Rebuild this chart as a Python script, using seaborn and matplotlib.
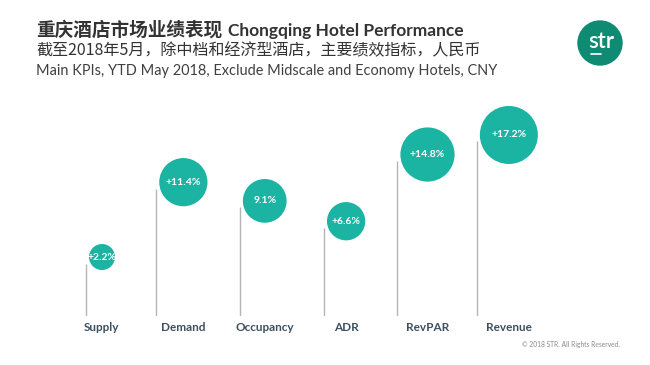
import numpy as np
import pandas as pd
import seaborn as sns
import matplotlib.pyplot as plt
from matplotlib import transforms
from matplotlib.patches import Ellipse

# KPI data, YTD May 2018
kpis = ["Supply", "Demand", "Occupancy", "ADR", "RevPAR", "Revenue"]
growth = [2.2, 11.4, 9.1, 6.6, 14.8, 17.2]
growth_labels = ["+2.2%", "+11.4%", "9.1%", "+6.6%", "+14.8%", "+17.2%"]

title_cn = "重庆酒店市场业绩表现"
title_en = "Chongqing Hotel Performance"
subtitle_cn = "截至2018年5月，除中档和经济型酒店，主要绩效指标，人民币"
subtitle_en = "Main KPIs, YTD May 2018, Exclude Midscale and Economy Hotels, CNY"

sns.set_theme(style="white")
plt.rcParams["font.family"] = ["Lato", "Noto Sans CJK SC", "DejaVu Sans"]

teal = "#1bb3a2"
label_col = "#3c5060"

df = pd.DataFrame({"kpi": kpis, "growth": growth, "label": growth_labels})
df["pos"] = np.arange(len(df))
# bubble area grows linearly with the value
df["area"] = np.interp(df["growth"], [df["growth"].min(), df["growth"].max()], [350, 1745])

fig = plt.figure(figsize=(6.5, 3.65), dpi=100)
ax = fig.add_axes([60 / 650, 1 - 316 / 365, 540 / 650, 216 / 365])

sns.scatterplot(data=df, x="pos", y="growth", size="area", sizes=(350, 1745),
                color=teal, edgecolor="none", legend=False, ax=ax, zorder=3)

ymin = -5.05
for _, row in df.iterrows():
    r_pt = np.sqrt(row["area"]) / 2
    tr = transforms.offset_copy(ax.transData, fig=fig, x=-(r_pt + 2.2), y=0, units="points")
    ax.plot([row["pos"], row["pos"]], [ymin, row["growth"] - 0.8], color="#b5b5b5",
            lw=1.0, transform=tr, zorder=1, solid_capstyle="butt")
    ax.text(row["pos"], row["growth"], row["label"], color="white", fontsize=7.5,
            fontweight="bold", ha="center", va="center", zorder=4)

ax.set_xlim(-0.516, 6.12)
ax.set_ylim(ymin, 21.5)
ax.set_xticks(df["pos"])
ax.set_xticklabels(df["kpi"], fontsize=8.5, fontweight="bold", color=label_col)
ax.tick_params(axis="x", length=0, pad=4)
ax.set_yticks([])
ax.set_xlabel("")
ax.set_ylabel("")
sns.despine(ax=ax, left=True, bottom=True)

# header
fig.text(36 / 650, 1 - 36 / 365, title_cn, fontsize=13.4, fontweight="bold",
         family=["Noto Sans CJK SC"], color="#333333", va="baseline")
fig.text(228 / 650, 1 - 36 / 365, title_en, fontsize=12.5, fontweight="bold",
         color="#333333", va="baseline")
fig.text(36 / 650, 1 - 55 / 365, subtitle_cn, fontsize=11.55,
         family=["Noto Sans CJK SC"], color="#333333", va="baseline")
fig.text(36 / 650, 1 - 75 / 365, subtitle_en, fontsize=10.45,
         color="#404040", va="baseline")

# logo
fig.patches.append(Ellipse((600 / 650, 1 - 43 / 365), 44 / 650, 44 / 365,
                           transform=fig.transFigure, color="#0f8a73", zorder=5))
fig.text(601 / 650, 1 - 41 / 365, "str", fontsize=16, fontweight="semibold",
         color="white", ha="center", va="center", zorder=6)
fig.lines.append(plt.Line2D([591 / 650, 601 / 650], [1 - 54 / 365, 1 - 54 / 365],
                            transform=fig.transFigure, color="white", lw=1.2, zorder=6))

fig.text(620 / 650, 1 - 345 / 365, "© 2018 STR. All Rights Reserved.", fontsize=4.8,
         color="#8a8a8a", ha="right", va="center")

fig.savefig("out.png", dpi=100, facecolor="white")
